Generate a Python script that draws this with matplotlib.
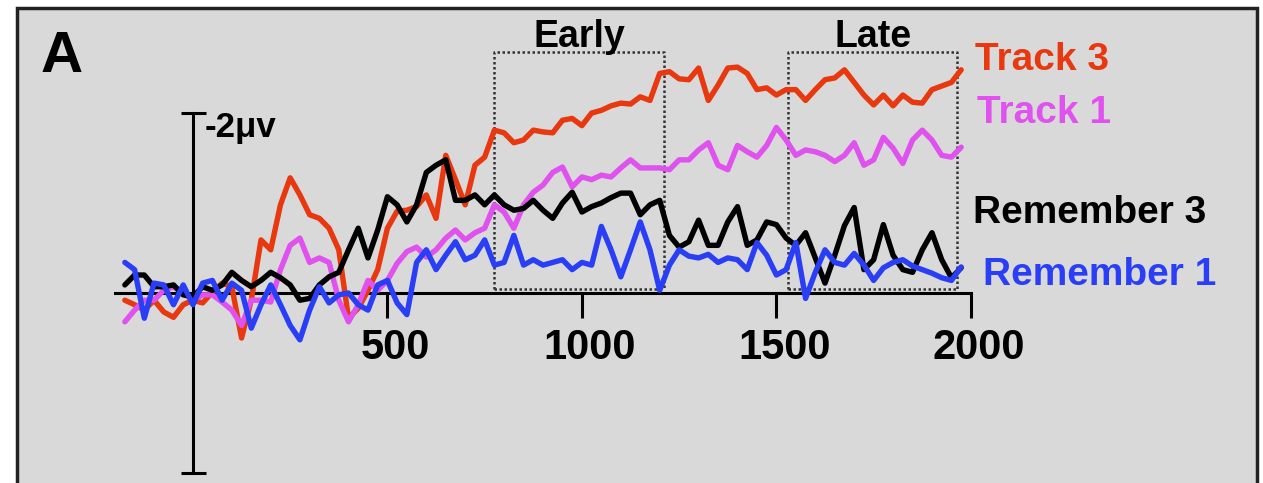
import numpy as np
import matplotlib
matplotlib.use('Agg')
import matplotlib.pyplot as plt
from matplotlib.patches import Rectangle
from matplotlib.transforms import ScaledTranslation

plt.rcParams['font.family'] = ['Liberation Sans', 'DejaVu Sans']

# tiempo (ms) de cada muestra
times = np.arange(-175, 2000, 25)

# amplitudes en microvoltios (negativo hacia arriba)
track3 = [
    0.08, 0.13, 0.19, 0.08, 0.21, 0.27, 0.13,
    0.08, 0.11, -0.01, -0.11, -0.07, 0.50, 0.08, -0.59,
    -0.48, -0.98, -1.28, -1.09, -0.87, -0.83, -0.72, -0.48,
    0.28, 0.17, -0.03, -0.26, -0.72, -0.91, -0.92, -0.96,
    -1.09, -0.83, -1.53, -1.26, -0.98, -1.42, -1.51, -1.81,
    -1.78, -1.67, -1.70, -1.81, -1.79, -1.78, -1.92, -1.94,
    -1.86, -2.00, -2.03, -2.08, -2.11, -2.10, -2.18, -2.14,
    -2.44, -2.46, -2.38, -2.37, -2.50, -2.14, -2.31, -2.50,
    -2.51, -2.44, -2.26, -2.28, -2.20, -2.26, -2.26, -2.14,
    -2.26, -2.37, -2.39, -2.48, -2.34, -2.20, -2.09, -2.20,
    -2.08, -2.20, -2.12, -2.11, -2.26, -2.30, -2.34, -2.48,
]
track1 = [
    0.32, 0.19, 0.08, 0.08, -0.03, -0.07, 0.00,
    0.08, 0.02, 0.02, 0.10, 0.19, 0.36, 0.08, 0.08,
    0.10, -0.26, -0.53, -0.61, -0.34, -0.39, -0.34, 0.08,
    0.32, 0.13, -0.14, -0.03, -0.14, -0.33, -0.46, -0.51,
    -0.40, -0.48, -0.61, -0.70, -0.59, -0.67, -0.72, -0.98,
    -0.90, -0.72, -0.98, -1.12, -1.20, -1.34, -1.40, -1.18,
    -1.29, -1.26, -1.31, -1.29, -1.39, -1.48, -1.39, -1.39,
    -1.39, -1.37, -1.48, -1.48, -1.59, -1.67, -1.42, -1.37,
    -1.64, -1.57, -1.51, -1.64, -1.84, -1.70, -1.53, -1.59,
    -1.57, -1.53, -1.46, -1.53, -1.67, -1.42, -1.48, -1.73,
    -1.61, -1.44, -1.70, -1.81, -1.70, -1.53, -1.51, -1.62,
]
remember3 = [
    -0.09, -0.20, -0.20, -0.07, -0.07, -0.09, 0.02,
    0.04, -0.07, -0.03, -0.09, -0.23, -0.14, -0.07, -0.14,
    -0.23, -0.17, -0.09, 0.08, 0.06, -0.09, -0.18, -0.23,
    -0.48, -0.72, -0.39, -0.70, -1.07, -0.98, -0.79, -0.98,
    -1.34, -1.42, -1.48, -1.03, -1.03, -1.09, -0.98, -1.09,
    -0.98, -0.92, -0.94, -1.03, -0.92, -0.83, -1.00, -1.12,
    -0.90, -0.96, -1.00, -1.06, -1.11, -1.11, -0.87, -0.98,
    -1.03, -0.64, -0.51, -0.57, -0.81, -0.53, -0.53, -0.79,
    -0.96, -0.53, -0.59, -0.79, -0.76, -0.61, -0.53, -0.67,
    -0.39, -0.11, -0.42, -0.75, -0.95, -0.26, -0.37, -0.76,
    -0.42, -0.26, -0.23, -0.48, -0.67, -0.37, -0.17, -0.28,
]
remember1 = [
    -0.34, -0.26, 0.28, -0.11, -0.09, 0.13, -0.09,
    0.13, -0.11, -0.14, 0.08, -0.11, -0.03, 0.39, 0.13,
    -0.09, 0.13, 0.36, 0.52, 0.19, -0.07, 0.11, 0.02,
    0.00, 0.13, 0.19, -0.09, -0.14, 0.11, 0.24, -0.34,
    -0.48, -0.26, -0.42, -0.57, -0.37, -0.42, -0.59, -0.31,
    -0.34, -0.64, -0.31, -0.37, -0.31, -0.34, -0.37, -0.26,
    -0.34, -0.31, -0.74, -0.48, -0.18, -0.48, -0.79, -0.48,
    -0.03, -0.31, -0.48, -0.41, -0.39, -0.43, -0.34, -0.39,
    -0.37, -0.26, -0.56, -0.42, -0.20, -0.26, -0.56, 0.06,
    -0.23, -0.48, -0.34, -0.31, -0.44, -0.31, -0.14, -0.28,
    -0.34, -0.37, -0.30, -0.26, -0.22, -0.17, -0.14, -0.29,
]

labels = ['Track 3', 'Track 1', 'Remember 3', 'Remember 1']
colors = ['#e8380f', '#e052ee', '#000000', '#2a3ff5']
series = [track3, track1, remember3, remember1]

# ventanas de analisis (ms)
windows = [(775, 1210), (1530, 1965)]
window_names = ['Early', 'Late']
window_top = -2.68
xticks = [500, 1000, 1500, 2000]

fig = plt.figure(figsize=(12.63, 4.83), dpi=100)
fig.patch.set_facecolor('white')
# panel gris con borde
fig.add_artist(Rectangle((17 / 1263, -0.05), 1240 / 1263, 475 / 483 + 0.05,
                         transform=fig.transFigure, facecolor='#d9d9d9',
                         edgecolor='#222222', linewidth=2.5, zorder=-1))

ax = fig.add_axes([0, 0, 1, 1])
ax.set_facecolor('none')
ax.set_xlim(-496, 2751)
ax.set_ylim(2.111, -3.256)

for name, col, vals in zip(labels, colors, series):
    ax.plot(times, vals, color=col, linewidth=3.9, solid_joinstyle='round',
            solid_capstyle='round', zorder=3)

# recuadros punteados
for (t0, t1), name in zip(windows, window_names):
    ax.plot([t0, t0, t1, t1], [-0.05, window_top, window_top, -0.05],
            color='#333333', linestyle=(0, (1, 1)), linewidth=1.8, zorder=2)
    ax.plot([t0, t1], [-0.05, -0.05], color='#333333',
            linestyle=(0, (1, 1)), linewidth=1.8, zorder=2)
    ax.text((t0 + t1) / 2, -2.73, name, ha='center', va='baseline',
            fontsize=27, fontweight='bold')

# ejes en el origen
for s in ['top', 'right']:
    ax.spines[s].set_visible(False)
ax.spines['bottom'].set_position(('data', 0))
ax.spines['bottom'].set_bounds(-200, 2000)
ax.spines['left'].set_position(('data', 0))
ax.spines['left'].set_bounds(-2, 2)
for s in ['bottom', 'left']:
    ax.spines[s].set_linewidth(2.2)
    ax.spines[s].set_zorder(2.5)

ax.set_xticks(xticks)
ax.set_xticklabels([str(t) for t in xticks], fontsize=30, fontweight='bold')
ax.set_xticks([2000], minor=True)
ax.tick_params(axis='x', which='major', direction='out', length=18, width=2.2, pad=7)
ax.tick_params(axis='x', which='minor', direction='in', length=9, width=2.2)
# etiquetas un poco a la derecha, como en el original
shift = ScaledTranslation(8 / 100, 0, fig.dpi_scale_trans)
for lab in ax.get_xticklabels():
    lab.set_transform(lab.get_transform() + shift)
ax.set_yticks([-2, 2])
ax.set_yticklabels([])
ax.tick_params(axis='y', direction='inout', length=18, width=2.2)

ax.text(31, -1.73, '-2μv', ha='left', va='baseline', fontsize=25, fontweight='bold')
ax.text(-337, -2.46, 'A', ha='center', va='baseline', fontsize=42, fontweight='bold')

# etiquetas de las series
label_pos = [(2010, -2.48), (2015, -1.89), (2005, -0.78), (2031, -0.09)]
for name, col, (lx, ly) in zip(labels, colors, label_pos):
    ax.text(lx, ly, name, color=col, ha='left', va='baseline',
            fontsize=28, fontweight='bold')

fig.savefig('out.png', dpi=100)
